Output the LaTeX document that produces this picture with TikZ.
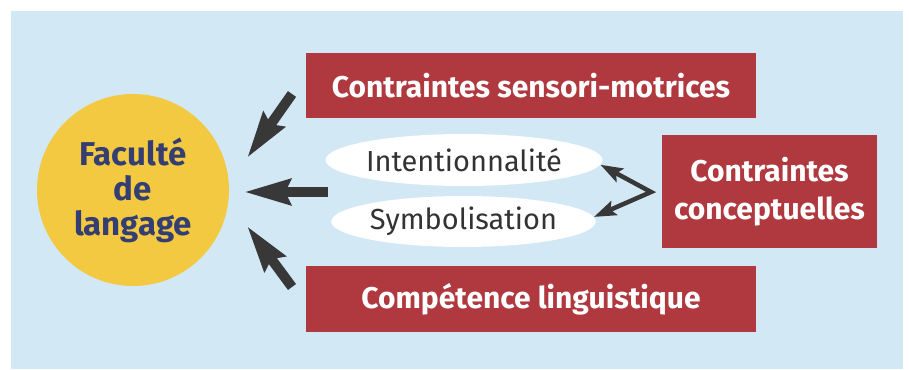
\documentclass[tikz,border=0pt]{standalone}
\usepackage{fontspec}
\setmainfont{Fira Sans}
\usetikzlibrary{arrows.meta,shapes.geometric,positioning}

\definecolor{fondbleu}{HTML}{D2E8F5}
\definecolor{rouge}{HTML}{B0393F}
\definecolor{jaune}{HTML}{F2C940}
\definecolor{bleunuit}{HTML}{353E72}
\definecolor{gris}{HTML}{333333}
\definecolor{fleche}{HTML}{383838}

\begin{document}
\begin{tikzpicture}[x=1pt,y=-1pt,
    contrainte/.style={fill=rouge,text=white,inner sep=0pt,align=center,
        font=\bfseries\fontsize{30}{38}\selectfont},
    notion/.style={ellipse,fill=white,text=gris,inner sep=0pt,
        font=\fontsize{29}{30}\selectfont},
    grosse/.style={-{Stealth[length=46pt,width=25pt,inset=5pt]},
        line width=10pt,draw=fleche},
    fine/.style={{Stealth[length=22pt,width=15pt,inset=4pt]}-{Stealth[length=22pt,width=15pt,inset=4pt]},
        line width=4.5pt,draw=fleche}]

\useasboundingbox (0,0) rectangle (909,369);
\fill[fondbleu] (11,11) rectangle (903,369);

\node[circle,fill=jaune,minimum size=192pt,inner sep=0pt,text=bleunuit,
    align=center,font=\bfseries\fontsize{33}{35}\selectfont]
    (faculte) at (133,190) {Faculté\\de\\langage};

\node[contrainte,minimum width=450pt,minimum height=65pt] (sensori) at (531,85.5)
    {Contraintes sensori-motrices};
\node[contrainte,minimum width=450pt,minimum height=66pt] (competence) at (531,299)
    {Compétence linguistique};
\node[contrainte,minimum width=215pt,minimum height=113pt] (concept) at (769.5,191.5)
    {Contraintes\\conceptuelles};

\node[notion,minimum width=262pt,minimum height=52pt] (intention) at (464,160)
    {Intentionnalité};
\node[notion,minimum width=263pt,minimum height=51pt] (symbol) at (463.5,221.5)
    {Symbolisation};

% grosses fleches vers la faculte
\coordinate (haut-depart) at (292,94);
\coordinate (haut-pointe) at (247,158);
\coordinate (milieu-depart) at (328,192);
\coordinate (milieu-pointe) at (244,192);
\coordinate (bas-depart) at (292,287);
\coordinate (bas-pointe) at (247,226);
\coordinate (sommet) at (651,192);

\draw[grosse] (haut-depart) -- (haut-pointe);
\draw[grosse] (milieu-depart) -- (milieu-pointe);
\draw[grosse] (bas-depart) -- (bas-pointe);

\draw[fine] (intention.-2) -- (sommet) -- (symbol.2);

\end{tikzpicture}
\end{document}
